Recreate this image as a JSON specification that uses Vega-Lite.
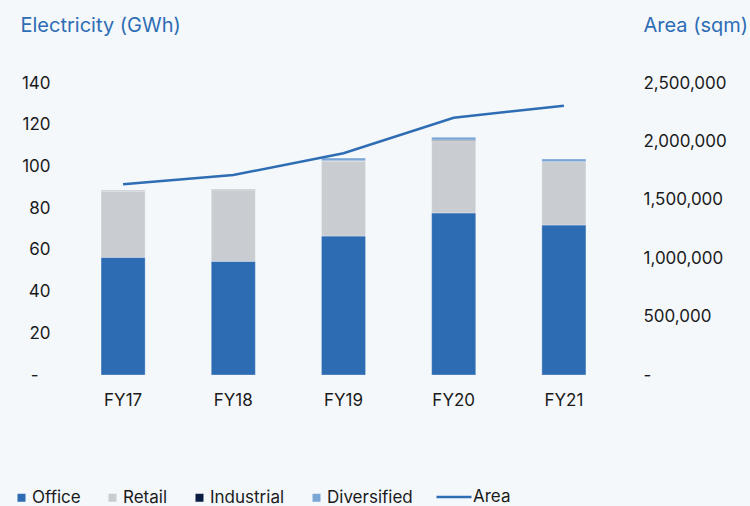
{
  "$schema": "https://vega.github.io/schema/vega-lite/v6.json",
  "autosize": {"type": "none"},
  "width": 551,
  "height": 292,
  "padding": {"left": 68, "top": 83, "right": 131, "bottom": 131},
  "background": "#f4f8fb",
  "config": {
    "view": {"stroke": null},
    "font": "Inter",
    "axis": {"labelFont": "Inter", "labelFontSize": 17, "labelColor": "#1b1b1b", "titleFont": "Inter", "titleFontSize": 20, "titleFontWeight": "normal", "titleColor": "#2e6db4", "grid": false, "domain": false, "ticks": false, "tickSize": 0},
    "legend": {"labelFont": "Inter", "labelFontSize": 17, "labelColor": "#1b1b1b", "padding": 0}
  },
  "datasets": {
    "elec": [
      {"year": "FY17", "category": "Office", "ord": 1, "value": 56.4},
      {"year": "FY17", "category": "Retail", "ord": 2, "value": 31.8},
      {"year": "FY17", "category": "Industrial", "ord": 3, "value": 0.2},
      {"year": "FY17", "category": "Diversified", "ord": 4, "value": 0.0},
      {"year": "FY18", "category": "Office", "ord": 1, "value": 54.5},
      {"year": "FY18", "category": "Retail", "ord": 2, "value": 34.3},
      {"year": "FY18", "category": "Industrial", "ord": 3, "value": 0.2},
      {"year": "FY18", "category": "Diversified", "ord": 4, "value": 0.0},
      {"year": "FY19", "category": "Office", "ord": 1, "value": 66.6},
      {"year": "FY19", "category": "Retail", "ord": 2, "value": 36.1},
      {"year": "FY19", "category": "Industrial", "ord": 3, "value": 0.0},
      {"year": "FY19", "category": "Diversified", "ord": 4, "value": 1.3},
      {"year": "FY20", "category": "Office", "ord": 1, "value": 77.7},
      {"year": "FY20", "category": "Retail", "ord": 2, "value": 34.7},
      {"year": "FY20", "category": "Industrial", "ord": 3, "value": 0.3},
      {"year": "FY20", "category": "Diversified", "ord": 4, "value": 1.3},
      {"year": "FY21", "category": "Office", "ord": 1, "value": 71.9},
      {"year": "FY21", "category": "Retail", "ord": 2, "value": 30.4},
      {"year": "FY21", "category": "Industrial", "ord": 3, "value": 0.0},
      {"year": "FY21", "category": "Diversified", "ord": 4, "value": 1.3}
    ],
    "area": [
      {"year": "FY17", "area": 1633000},
      {"year": "FY18", "area": 1712000},
      {"year": "FY19", "area": 1898000},
      {"year": "FY20", "area": 2203000},
      {"year": "FY21", "area": 2305000}
    ]
  },
  "encoding": {
    "x": {
      "field": "year", "type": "nominal",
      "scale": {"paddingInner": 0.6, "paddingOuter": 0.3},
      "axis": {"title": null, "labelAngle": 0, "labelPadding": 17, "labelBaseline": "top"}
    }
  },
  "layer": [
    {
      "data": {"name": "elec"},
      "mark": {"type": "bar", "stroke": "#ffffff", "strokeWidth": 0.75, "strokeOpacity": 0.4},
      "encoding": {
        "y": {
          "field": "value", "type": "quantitative", "stack": "zero",
          "scale": {"domain": [0, 140], "nice": false},
          "axis": {
            "orient": "left", "title": "Electricity (GWh)", "values": [0, 20, 40, 60, 80, 100, 120, 140],
            "labelExpr": "datum.value == 0 ? '-' : datum.label",
            "labelAlign": "right",
            "labelPadding": {"condition": {"test": "datum.value == 0", "value": 30}, "value": 18},
            "titleAngle": 0, "titleX": -48, "titleY": -52, "titleAlign": "left", "titleAnchor": "start", "titleBaseline": "alphabetic"
          }
        },
        "color": {
          "field": "category", "type": "nominal",
          "scale": {"domain": ["Office", "Retail", "Industrial", "Diversified"], "range": ["#2d6bb3", "#c9ccd0", "#0b1d42", "#7aa6d6"]},
          "legend": {"title": null, "orient": "none", "legendX": -55, "legendY": 406, "direction": "horizontal", "symbolType": "square", "symbolSize": 64, "symbolStrokeWidth": 0, "labelOffset": 2, "columnPadding": 23}
        },
        "order": {"field": "ord", "type": "quantitative"}
      }
    },
    {
      "data": {"name": "area"},
      "mark": {"type": "line", "strokeWidth": 2.5},
      "encoding": {
        "y": {
          "field": "area", "type": "quantitative",
          "scale": {"domain": [0, 2500000], "nice": false},
          "axis": {
            "orient": "right", "title": "Area (sqm)", "values": [0, 500000, 1000000, 1500000, 2000000, 2500000],
            "format": ",d",
            "labelExpr": "datum.value == 0 ? '-' : datum.label",
            "labelAlign": "left", "labelPadding": 24,
            "titleAngle": 0, "titleX": 24, "titleY": -52, "titleAlign": "left", "titleAnchor": "start", "titleBaseline": "alphabetic"
          }
        },
        "stroke": {
          "datum": "Area", "type": "nominal",
          "scale": {"range": ["#2e6db4"]},
          "legend": {"title": null, "orient": "none", "legendX": 367, "legendY": 395, "symbolType": "stroke", "symbolSize": 1225, "symbolStrokeWidth": 2.5, "labelOffset": 0}
        }
      }
    }
  ],
  "resolve": {"scale": {"y": "independent"}}
}
